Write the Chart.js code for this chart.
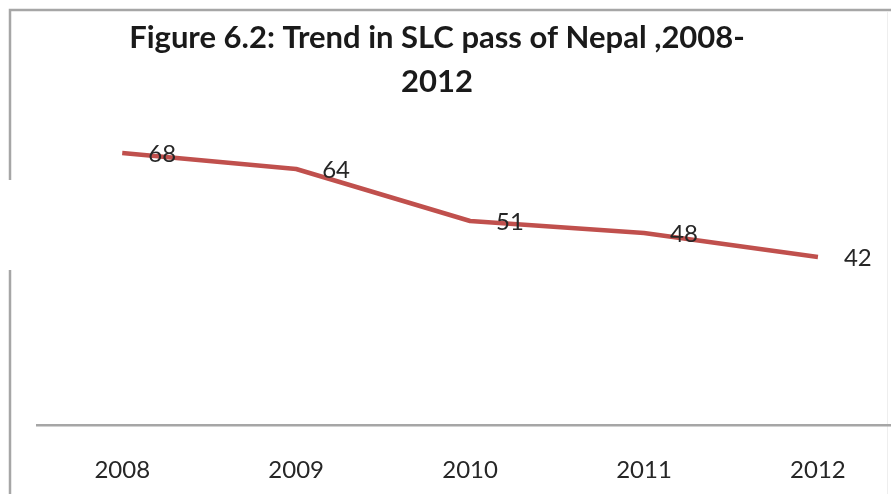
<!DOCTYPE html>
<html>
<head>
<meta charset="utf-8">
<script src="https://cdn.jsdelivr.net/npm/chart.js@4/dist/chart.umd.min.js"></script>
<style>
  html, body { margin: 0; padding: 0; background: #ffffff; overflow: hidden; }
  #wrap { position: relative; width: 908px; height: 494px; margin-left: -17px; }
</style>
</head>
<body>
<div id="wrap"><canvas id="c"></canvas></div>
<script>
const titleLines = ['Figure 6.2: Trend in SLC pass of Nepal ,2008-', '2012'];
const categories = ['2008', '2009', '2010', '2011', '2012'];
const passRate = [68, 64, 51, 48, 42];
const yMin = 0;
const yMax = 80;

const SHIFT = 17; // canvas is shifted left by this many px

const framePlugin = {
  id: 'frame',
  beforeDraw(chart) {
    const ctx = chart.ctx;
    ctx.save();
    ctx.fillStyle = '#ffffff';
    ctx.fillRect(0, 0, chart.width, chart.height);
    ctx.strokeStyle = '#a6a6a6';
    ctx.lineWidth = 2.5;
    ctx.beginPath();
    ctx.moveTo(10 + SHIFT, 494);
    ctx.lineTo(10 + SHIFT, 270);
    ctx.moveTo(10 + SHIFT, 180);
    ctx.lineTo(10 + SHIFT, 10);
    ctx.lineTo(chart.width, 10);
    ctx.stroke();
    ctx.strokeStyle = '#eeeeee';
    ctx.lineWidth = 1;
    ctx.beginPath();
    ctx.moveTo(887.5 + SHIFT, 12);
    ctx.lineTo(887.5 + SHIFT, 494);
    ctx.stroke();
    ctx.restore();
  }
};

const labelPlugin = {
  id: 'valueLabels',
  afterDatasetsDraw(chart) {
    const ctx = chart.ctx;
    const meta = chart.getDatasetMeta(0);
    ctx.save();
    ctx.font = '24px Lato';
    ctx.fillStyle = '#262626';
    ctx.textAlign = 'left';
    ctx.textBaseline = 'middle';
    meta.data.forEach((pt, i) => {
      ctx.fillText(String(passRate[i]), pt.x + 26, pt.y + 1);
    });
    ctx.restore();
  }
};

new Chart(document.getElementById('c'), {
  type: 'line',
  data: {
    datasets: [{
      label: 'SLC pass',
      data: passRate.map((v, i) => ({ x: i, y: v })),
      borderColor: '#c0504d',
      borderWidth: 4.5,
      pointRadius: 0,
      pointHoverRadius: 0,
      tension: 0,
      borderCapStyle: 'butt',
      borderJoinStyle: 'round'
    }]
  },
  options: {
    responsive: true,
    maintainAspectRatio: false,
    animation: false,
    events: [],
    layout: { padding: { left: 0, right: 0, top: 0, bottom: 0 } },
    plugins: {
      legend: { display: false },
      tooltip: { enabled: false },
      title: {
        display: true,
        text: titleLines,
        color: '#1a1a1a',
        font: { family: 'Lato', size: 31, weight: 'bold', lineHeight: 44 / 31 },
        padding: { top: 16, bottom: 1 }
      }
    },
    scales: {
      x: {
        type: 'linear',
        min: -0.49,
        max: 4.42,
        afterBuildTicks(scale) {
          scale.ticks = categories.map((c, i) => ({ value: i }));
        },
        afterFit(scale) { scale.height = 69; },
        ticks: {
          callback: (v) => categories[v] ?? '',
          color: '#262626',
          font: { family: 'Lato', size: 24 },
          padding: 23,
          autoSkip: false,
          maxRotation: 0
        },
        grid: { display: false },
        border: { display: true, color: '#a6a6a6', width: 2.5 }
      },
      y: {
        min: yMin,
        max: yMax,
        display: true,
        afterFit(scale) { scale.width = 54; },
        ticks: { display: false },
        grid: { display: false },
        border: { display: false }
      }
    }
  },
  plugins: [framePlugin, labelPlugin]
});
</script>
</body>
</html>
